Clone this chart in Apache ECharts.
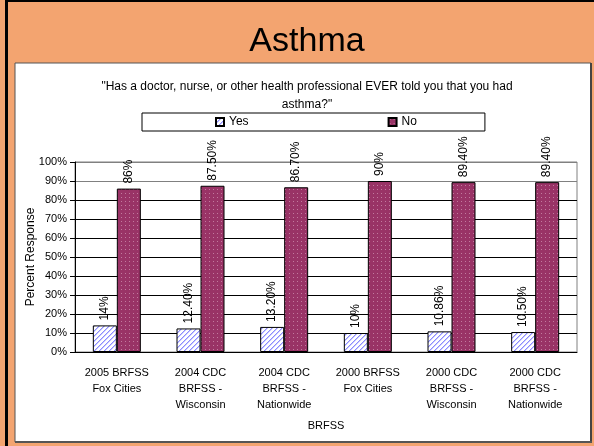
<!DOCTYPE html>
<html>
<head>
<meta charset="utf-8">
<script src="https://cdn.jsdelivr.net/npm/echarts@6/dist/echarts.min.js"></script>
<style>
  html, body { margin: 0; padding: 0; }
  #chart { width: 594px; height: 446px; }
</style>
</head>
<body>
<div id="chart"></div>
<script>
// data
const categories = [
    '2005 BRFSS\nFox Cities',
    '2004 CDC\nBRFSS -\nWisconsin',
    '2004 CDC\nBRFSS -\nNationwide',
    '2000 BRFSS\nFox Cities',
    '2000 CDC\nBRFSS -\nWisconsin',
    '2000 CDC\nBRFSS -\nNationwide'
];
const yesValues = [14, 12.4, 13.2, 10, 10.86, 10.5];
const noValues = [86, 87.5, 86.7, 90, 89.4, 89.4];
const yesLabels = ['14%', '12.40%', '13.20%', '10%', '10.86%', '10.50%'];
const noLabels = ['86%', '87.50%', '86.70%', '90%', '89.40%', '89.40%'];

// hatched fill for "Yes"
function hatch() {
    let c = document.createElement('canvas');
    c.width = 5; c.height = 5;
    let ctx = c.getContext('2d');
    ctx.fillStyle = '#fff';
    ctx.fillRect(0, 0, 5, 5);
    for (let i = 0; i < 5; i++) {
        ctx.fillStyle = '#8c8cff';
        ctx.fillRect(i, 4 - i, 1, 1);
        ctx.fillStyle = '#c8c8ff';
        ctx.fillRect(i, (5 - i) % 5, 1, 1);
    }
    return c;
}
// dotted fill for "No"
function dots() {
    let c = document.createElement('canvas');
    c.width = 4; c.height = 4;
    let ctx = c.getContext('2d');
    ctx.fillStyle = '#993366';
    ctx.fillRect(0, 0, 4, 4);
    ctx.fillStyle = '#c27a9e';
    ctx.fillRect(1, 1, 1, 1);
    return c;
}

let chart = echarts.init(document.getElementById('chart'));
let font = 'Liberation Sans, Arial, sans-serif';

let option = {
    backgroundColor: '#f3a470',
    animation: false,
    textStyle: { fontFamily: font },
    graphic: [
        { type: 'rect', z: -10, shape: { x: 5, y: 0, width: 3, height: 446 }, style: { fill: '#000' } },
        { type: 'rect', z: -10, shape: { x: 5, y: 0, width: 589, height: 2 }, style: { fill: '#000' } },
        { type: 'rect', z: -10, shape: { x: 15, y: 63, width: 576, height: 379 }, style: { fill: '#fff', stroke: '#555', lineWidth: 1 } },
        { type: 'rect', z: -9, shape: { x: 590, y: 63, width: 2, height: 380 }, style: { fill: '#444' } },
        { type: 'rect', z: -9, shape: { x: 15, y: 441, width: 577, height: 2 }, style: { fill: '#555' } }
    ],
    title: [
        {
            text: 'Asthma',
            left: 302, top: 20, textAlign: 'center',
            textStyle: { fontSize: 34, fontWeight: 'normal', color: '#000', fontFamily: font }
        },
        {
            text: '"Has a doctor, nurse, or other health professional EVER told you that you had\nasthma?"',
            left: 302, top: 73, textAlign: 'center',
            textStyle: { fontSize: 12, fontWeight: 'normal', color: '#000', lineHeight: 18, fontFamily: font }
        }
    ],
    legend: {
        left: 142, top: 113,
        itemWidth: 8, itemHeight: 8,
        itemGap: 139,
        padding: [3, 68, 3, 73],
        borderColor: '#000', borderWidth: 1,
        backgroundColor: '#fff',
        textStyle: { fontSize: 12, color: '#000', fontFamily: font },
        data: [
            { name: 'Yes', icon: 'rect' },
            { name: 'No', icon: 'rect' }
        ]
    },
    grid: { left: 75, right: 17, top: 162, bottom: 94, show: true, borderColor: '#808080', borderWidth: 1 },
    xAxis: {
        type: 'category',
        data: categories,
        name: 'BRFSS',
        nameLocation: 'middle',
        nameGap: 68,
        nameTextStyle: { fontSize: 11, color: '#000' },
        axisLine: { lineStyle: { color: '#000' } },
        axisTick: { length: 5, lineStyle: { color: '#000' } },
        axisLabel: { color: '#000', fontSize: 11, lineHeight: 16, margin: 13, interval: 0 }
    },
    yAxis: {
        type: 'value',
        min: 0, max: 100, interval: 10,
        name: 'Percent Response',
        nameLocation: 'middle',
        nameGap: 38,
        nameMoveOverlap: false,
        nameTextStyle: { fontSize: 12, color: '#000' },
        axisLine: { show: true, lineStyle: { color: '#000' } },
        axisTick: { show: true, length: 5, lineStyle: { color: '#000' } },
        axisLabel: { color: '#000', fontSize: 11, formatter: '{value}%', margin: 8 },
        splitLine: {
            lineStyle: {
                color: ['#000', '#000', '#000', '#000', '#000', '#000', '#000', '#000', '#000', '#808080', '#808080']
            }
        }
    },
    series: [
        {
            name: 'Yes',
            type: 'bar',
            barWidth: 24,
            barGap: '0%',
            data: yesValues,
            itemStyle: { color: { image: hatch(), repeat: 'repeat' }, borderColor: '#000', borderWidth: 1 },
            label: {
                show: true, position: 'top', rotate: 90, align: 'left', verticalAlign: 'middle',
                distance: 5, fontSize: 12, color: '#000',
                formatter: function (p) { return yesLabels[p.dataIndex]; }
            }
        },
        {
            name: 'No',
            type: 'bar',
            barWidth: 24,
            data: noValues,
            itemStyle: { color: { image: dots(), repeat: 'repeat' }, borderColor: '#000', borderWidth: 1 },
            label: {
                show: true, position: 'top', rotate: 90, align: 'left', verticalAlign: 'middle',
                distance: 5, fontSize: 12, color: '#000',
                formatter: function (p) { return noLabels[p.dataIndex]; }
            }
        }
    ]
};

chart.setOption(option);

window.addEventListener('resize', function () {
    chart.resize();
});
</script>
</body>
</html>
